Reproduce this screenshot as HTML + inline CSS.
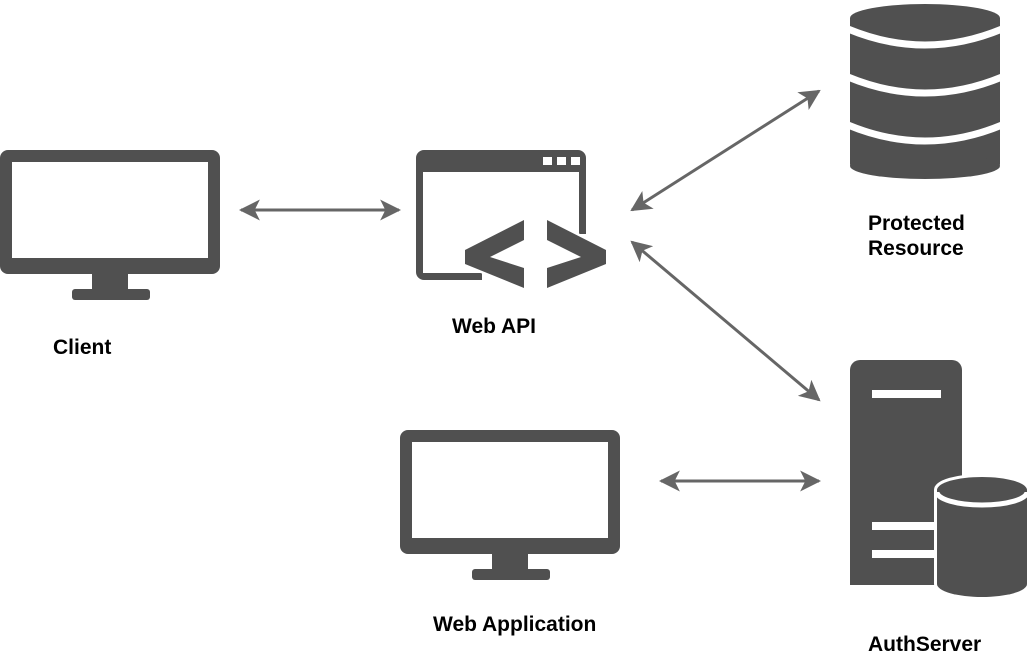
<!DOCTYPE html>
<html><head><meta charset="utf-8"><style>html,body{margin:0;padding:0;background:#fff}svg{display:block}</style></head><body>
<svg width="1031" height="657" viewBox="0 0 1031 657" xmlns="http://www.w3.org/2000/svg">
<defs>
<marker id="a" viewBox="0 0 10 10" refX="9" refY="5" markerWidth="7" markerHeight="7" orient="auto-start-reverse"><path d="M0,0L10,5L0,10L2.5,5z" fill="#666"/></marker>
</defs>
<g fill="#505050">
<rect x="0" y="150" width="220" height="124" rx="8"/>
<rect x="12" y="162" width="196" height="96" fill="#fff"/>
<rect x="92" y="273" width="36" height="18"/>
<rect x="72" y="289" width="78" height="11" rx="3"/>
<rect x="400" y="430" width="220" height="124" rx="8"/>
<rect x="412" y="442" width="196" height="96" fill="#fff"/>
<rect x="492" y="553" width="36" height="18"/>
<rect x="472" y="569" width="78" height="11" rx="3"/>
<path d="M424,150H578a8,8 0 0 1 8,8V234H579V172H423V273H482V280H424a8,8 0 0 1 -8,-8V158a8,8 0 0 1 8,-8z"/>
<rect x="543" y="157" width="9" height="8" fill="#fff"/>
<rect x="557" y="157" width="9" height="8" fill="#fff"/>
<rect x="571" y="157" width="9" height="8" fill="#fff"/>
<polygon points="524,220 465,250 465,264 524,288 524,268 490,257 524,240" stroke="#fff" stroke-width="5" paint-order="stroke"/>
<polygon points="547,220 606,250 606,264 547,288 547,268 581,257 547,240" stroke="#fff" stroke-width="5" paint-order="stroke"/>
<path d="M850,18 A75,14 0 0 1 1000,18 V164 A75,14 0 0 1 850,164z"/>
<ellipse cx="925" cy="166" rx="75" ry="13"/>
<g fill="none" stroke="#fff" stroke-width="7">
<path d="M848,29 Q925,61 1002,29"/>
<path d="M848,77 Q925,109 1002,77"/>
<path d="M848,125 Q925,157 1002,125"/>
</g>
<path d="M860,360H952a10,10 0 0 1 10,10V585H850V370a10,10 0 0 1 10,-10z"/>
<rect x="872" y="390" width="69" height="8" fill="#fff"/>
<rect x="872" y="522" width="69" height="8" fill="#fff"/>
<rect x="872" y="550" width="69" height="8" fill="#fff"/>
<path d="M937,490 A45,13 0 0 1 1027,490 V584 A45,13 0 0 1 937,584z" stroke="#fff" stroke-width="6" paint-order="stroke"/>
<path d="M937,492 A45,13 0 0 0 1027,492" fill="none" stroke="#fff" stroke-width="5"/>
</g>
<g stroke="#666" stroke-width="3" fill="none" marker-start="url(#a)" marker-end="url(#a)">
<line x1="241" y1="210" x2="399" y2="210"/>
<line x1="632" y1="210" x2="819" y2="91"/>
<line x1="632" y1="242" x2="819" y2="400"/>
<line x1="661" y1="481" x2="819" y2="481"/>
</g>
<g font-family="Liberation Sans, sans-serif" font-weight="bold" font-size="21" fill="#000">
<text x="53" y="354">Client</text>
<text x="452" y="333">Web API</text>
<text x="868" y="230">Protected</text>
<text x="868" y="255">Resource</text>
<text x="433" y="631">Web Application</text>
<text x="868" y="651">AuthServer</text>
</g>
</svg>
</body></html>
